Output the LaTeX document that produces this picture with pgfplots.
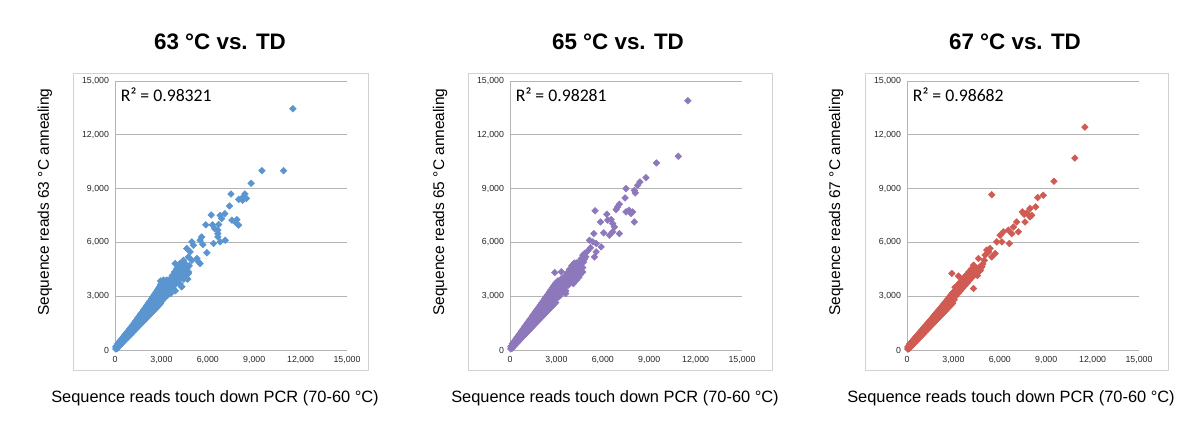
\documentclass[border=0pt]{standalone}
\usepackage{pgfplots}
\pgfplotsset{compat=1.18}
\usepackage{pgfplotstable}
\usepackage{fontspec}
\setmainfont{Liberation Sans}
\newfontfamily\carlito{Carlito}
\definecolor{cblue}{HTML}{5B95D0}
\definecolor{cpurple}{HTML}{8E78BC}
\definecolor{cred}{HTML}{CF5B52}
\definecolor{gridc}{HTML}{B4B4B4}
\definecolor{boxc}{HTML}{D2D2D2}

% ---------- 63 C vs TD ----------
\pgfplotstableread{
x y
50 60
50 180
150 90
150 200
150 320
250 200
250 300
250 430
350 280
350 400
350 530
450 380
450 500
450 640
550 460
550 600
550 750
650 560
650 700
650 860
750 640
750 800
750 960
850 730
850 900
850 1070
950 820
950 1010
950 1180
1050 900
1050 1110
1050 1290
1150 990
1150 1220
1150 1400
1250 1080
1250 1320
1250 1520
1350 1170
1350 1430
1350 1640
1450 1260
1450 1540
1450 1760
1550 1350
1550 1640
1550 1880
1650 1440
1650 1750
1650 2000
1750 1520
1750 1850
1750 2110
1850 1610
1850 1960
1850 2230
1950 1700
1950 2060
1950 2350
2050 1790
2050 2170
2050 2470
2150 1880
2150 2280
2150 2600
2250 1970
2250 2380
2250 2720
2350 2060
2350 2490
2350 2850
2450 2150
2450 2600
2450 2970
2550 2240
2550 2700
2550 3100
2650 2330
2650 2810
2650 3230
2750 2420
2750 2920
2750 3360
2850 2510
2850 3030
2850 3500
2950 2600
2950 3140
2950 3650
100 78
100 153
200 176
200 266
300 274
300 379
400 372
400 492
500 470
500 605
600 568
600 718
700 666
700 831
800 764
800 944
900 862
900 1057
1000 960
1000 1170
1100 1058
1100 1283
1200 1156
1200 1396
1300 1254
1300 1509
1400 1352
1400 1622
1500 1450
1500 1735
1600 1548
1600 1848
1700 1646
1700 1961
1800 1744
1800 2074
1900 1842
1900 2187
2000 1940
2000 2300
2100 2038
2100 2413
2200 2136
2200 2526
2300 2234
2300 2639
2400 2332
2400 2752
2500 2430
2500 2865
2600 2528
2600 2978
2700 2626
2700 3091
2800 2724
2800 3204
2900 2822
2900 3317
3000 2920
3000 3430
3050 2750
3050 3400
3100 3800
3150 3100
3200 2900
3250 3500
3300 3250
3350 3900
3400 3050
3450 3650
3500 3350
3550 3950
3600 3150
3650 3700
3700 4150
3750 3450
3800 3900
3850 4350
3900 3650
3950 4100
4000 4550
4050 3800
4100 4300
4150 4750
4200 4000
4250 4450
4300 3530
4350 4200
4400 4650
4450 3950
4500 4400
4550 4800
4600 4150
4650 4550
4700 3950
4750 4350
4200 3700
3900 3300
2950 3850
3130 3900
4800 4700
3100 3550
3200 3250
3300 3700
3400 3450
3500 3750
3600 3550
3700 3800
3800 4100
3900 4300
4000 3900
4100 4100
4200 4300
4300 4050
4400 4250
4500 4600
4600 4450
4700 4250
4400 4450
3950 3850
4150 4550
11500 13450
9500 10000
10900 10000
8800 9300
7500 8700
8300 8550
8400 8700
8500 8450
8250 8350
8000 8400
7400 8030
7100 7600
6800 7500
6900 7330
6220 7530
7560 7240
7880 7270
7780 7140
7990 6960
5870 6980
6300 6980
6440 6770
6700 7000
6650 6680
6650 6490
6650 6310
6370 5940
6800 6030
7130 6120
5500 6120
4970 6030
5070 5840
5600 6300
5940 5420
5680 5880
4640 5660
4860 5470
4750 5190
4970 5000
5300 5100
5400 4920
5500 4820
4430 5000
4200 4820
3890 4820
4750 4270
4640 3990
4320 3530
}\dataA

% ---------- 65 C vs TD ----------
\pgfplotstableread{
x y
50 60
50 190
150 110
150 230
150 350
250 210
250 330
250 460
350 300
350 440
350 580
450 390
450 550
450 700
550 480
550 650
550 820
650 580
650 760
650 940
750 670
750 860
750 1060
850 760
850 970
850 1180
950 850
950 1080
950 1300
1050 940
1050 1180
1050 1420
1150 1030
1150 1290
1150 1540
1250 1120
1250 1400
1250 1660
1350 1210
1350 1500
1350 1780
1450 1300
1450 1610
1450 1900
1550 1390
1550 1720
1550 2020
1650 1480
1650 1820
1650 2140
1750 1570
1750 1930
1750 2260
1850 1660
1850 2040
1850 2380
1950 1750
1950 2140
1950 2500
2050 1840
2050 2250
2050 2620
2150 1930
2150 2360
2150 2740
2250 2020
2250 2460
2250 2860
2350 2110
2350 2570
2350 2980
2450 2200
2450 2680
2450 3100
2550 2290
2550 2790
2550 3230
2650 2380
2650 2890
2650 3360
2750 2470
2750 3000
2750 3480
2850 2560
2850 3110
2850 3600
2950 2650
2950 3220
2950 3720
100 100
100 175
200 199
200 291
300 298
300 406
400 398
400 522
500 497
500 637
600 597
600 753
700 696
700 868
800 796
800 984
900 895
900 1100
1000 995
1000 1215
1100 1094
1100 1330
1200 1194
1200 1446
1300 1293
1300 1561
1400 1393
1400 1677
1500 1492
1500 1792
1600 1592
1600 1908
1700 1691
1700 2023
1800 1791
1800 2139
1900 1890
1900 2254
2000 1990
2000 2370
2100 2089
2100 2485
2200 2189
2200 2601
2300 2288
2300 2716
2400 2388
2400 2832
2500 2487
2500 2947
2600 2587
2600 3063
2700 2686
2700 3178
2800 2786
2800 3294
2900 2885
2900 3409
3000 2985
3000 3525
3050 2900
3050 3500
3100 3850
3150 3200
3200 3000
3250 3650
3300 3400
3350 4000
3400 3200
3450 3750
3500 3500
3550 4100
3600 3300
3650 3850
3700 4300
3750 3600
3800 4050
3850 4500
3900 3800
3950 4250
4000 4700
4050 3950
4100 4450
4150 4850
4200 4150
4250 4600
4300 3900
4350 4350
4400 4750
4450 4050
4500 4500
4550 4200
4600 4350
4700 4600
4750 4900
2890 4320
3320 4360
3600 3150
4100 3700
4800 5050
3100 3650
3200 3350
3300 3800
3400 3550
3500 3900
3600 3700
3700 4000
3800 4250
3900 4450
4000 4050
4100 4250
4200 4400
4300 4150
4400 4400
4500 4750
4600 4600
4700 4350
4400 4550
3950 4000
4150 4650
4300 4850
4500 4950
11500 13900
10880 10800
9470 10430
8790 9610
8400 9370
8250 9180
7500 9000
8040 8900
8100 8760
7440 8480
7070 8130
6960 7980
6860 7830
7500 7700
7700 7790
7930 7700
7820 7610
8040 7140
5500 7760
5850 7140
6260 7570
6320 7240
6540 7270
6640 7050
6750 6860
6060 6530
6430 6400
7070 6490
6640 6590
5420 6490
5140 6120
5360 6030
5570 5940
5890 5750
5460 5190
5570 5470
4820 5380
4710 5290
4610 5100
5200 5700
5000 5500
4900 5200
}\dataB

% ---------- 67 C vs TD ----------
\pgfplotstableread{
x y
50 50
50 170
150 90
150 200
150 320
250 180
250 290
250 410
350 270
350 390
350 510
450 360
450 480
450 610
550 450
550 580
550 710
650 540
650 670
650 810
750 630
750 770
750 910
850 720
850 860
850 1010
950 810
950 960
950 1110
1050 900
1050 1050
1050 1210
1150 990
1150 1150
1150 1310
1250 1080
1250 1240
1250 1410
1350 1170
1350 1340
1350 1510
1450 1260
1450 1430
1450 1610
1550 1350
1550 1530
1550 1710
1650 1440
1650 1620
1650 1810
1750 1530
1750 1720
1750 1920
1850 1620
1850 1810
1850 2020
1950 1710
1950 1910
1950 2120
2050 1800
2050 2000
2050 2220
2150 1890
2150 2100
2150 2330
2250 1980
2250 2190
2250 2430
2350 2070
2350 2290
2350 2540
2450 2160
2450 2380
2450 2640
2550 2250
2550 2480
2550 2750
2650 2340
2650 2570
2650 2860
2750 2430
2750 2670
2750 2970
2850 2520
2850 2760
2850 3080
2950 2610
2950 2860
2950 3190
100 71
100 146
200 165
200 247
300 258
300 348
400 352
400 449
500 445
500 550
600 539
600 651
700 632
700 752
800 726
800 853
900 819
900 954
1000 913
1000 1055
1100 1006
1100 1156
1200 1100
1200 1257
1300 1193
1300 1358
1400 1287
1400 1459
1500 1380
1500 1560
1600 1474
1600 1661
1700 1567
1700 1762
1800 1661
1800 1863
1900 1754
1900 1964
2000 1848
2000 2065
2100 1941
2100 2166
2200 2035
2200 2267
2300 2128
2300 2368
2400 2222
2400 2469
2500 2315
2500 2570
2600 2409
2600 2671
2700 2502
2700 2772
2800 2596
2800 2873
2900 2689
2900 2974
3000 2783
3000 3075
3050 2800
3050 3250
3100 3500
3150 3000
3200 3300
3250 3600
3300 3150
3350 3450
3400 3750
3450 3300
3500 3600
3550 3900
3600 3450
3650 3750
3700 4050
3750 3600
3800 3900
3850 4200
3900 3750
3950 4050
4000 4350
4050 3900
4100 4200
4150 4500
4200 4050
4250 4350
4300 4600
4350 4200
4400 4500
4450 4300
4500 4550
4600 4350
4650 4600
4700 4400
4800 4650
2900 4270
3330 4120
4300 3430
4550 4150
3100 3150
3200 3450
3300 3600
3400 3500
3500 3800
3600 3650
3700 3850
3800 4100
3900 4200
4000 4050
4100 4350
4200 4250
4300 4400
4400 4350
4500 4400
4600 4500
4700 4550
4750 4450
3950 3950
4150 4400
11500 12430
10850 10700
9500 9410
8810 8630
8450 8500
5480 8660
8320 7980
7950 7890
7740 7640
7570 7570
7460 7700
7630 7140
7950 7420
8060 7510
7090 7140
6880 6860
7200 6590
6770 6490
6560 6680
6230 6590
6020 6400
6620 5940
6130 6030
5800 6030
5160 5570
5270 5470
5370 5660
5700 5380
5480 5190
5050 5290
4620 5100
4840 4640
4300 4730
5000 5000
4900 4800
}\dataC

\pgfplotsset{
  panel/.style={
    scale only axis,
    width=174pt, height=201.75pt,
    anchor=south west,
    xmin=0, xmax=15000, ymin=0, ymax=15000,
    xtick={0,3000,...,15000}, ytick={0,3000,...,15000},
    scaled ticks=false,
    /pgf/number format/.cd, 1000 sep={,}, assume math mode=true, /pgfplots/.cd,
    ticklabel style={font=\fontsize{6.6}{7}\selectfont, text=black!85},
    ymajorgrids, grid style={gridc, line width=0.6pt},
    axis x line*=bottom, axis y line*=left,
    axis line style={gridc, line width=0.6pt},
    major tick length=0pt,
    xticklabel style={yshift=-1pt},
    yticklabel style={xshift=-1pt},
  },
  dots/.style={only marks, mark=square*, mark size=1.75pt,
    mark options={rotate=45, draw=#1, fill=#1}},
}

\begin{document}
\begin{tikzpicture}
\path[use as bounding box] (0,0) rectangle (900pt,326.25pt);

% panel boxes
\draw[boxc, line width=0.6pt] (54.75pt,48.75pt) rectangle (276pt,271.5pt);
\draw[boxc, line width=0.6pt] (351pt,48.75pt) rectangle (579pt,271.5pt);
\draw[boxc, line width=0.6pt] (648.75pt,48.75pt) rectangle (876pt,271.5pt);

\begin{axis}[panel, at={(86.25pt,63.75pt)}]
  \addplot[dots=cblue] table[x=x,y=y] {\dataA};
  \node[anchor=west, font=\carlito\fontsize{13.3}{14}\selectfont] at (rel axis cs:0.005,0.948) {R² = 0.98321};
\end{axis}

\begin{axis}[panel, at={(382.5pt,63.75pt)}]
  \addplot[dots=cpurple] table[x=x,y=y] {\dataB};
  \node[anchor=west, font=\carlito\fontsize{13.3}{14}\selectfont] at (rel axis cs:0.005,0.948) {R² = 0.98281};
\end{axis}

\begin{axis}[panel, at={(680.25pt,63.75pt)}]
  \addplot[dots=cred] table[x=x,y=y] {\dataC};
  \node[anchor=west, font=\carlito\fontsize{13.3}{14}\selectfont] at (rel axis cs:0.005,0.948) {R² = 0.98682};
\end{axis}

% titles
\node[font=\bfseries\fontsize{16.8}{18}\selectfont] at (165pt,294.75pt) {63 °C vs. TD};
\node[font=\bfseries\fontsize{16.8}{18}\selectfont] at (463.5pt,294.75pt) {65 °C vs. TD};
\node[font=\bfseries\fontsize{16.8}{18}\selectfont] at (761.25pt,294.75pt) {67 °C vs. TD};

% x labels
\node[font=\fontsize{12.3}{14}\selectfont] at (161.25pt,27.75pt) {Sequence reads touch down PCR (70-60 °C)};
\node[font=\fontsize{12.3}{14}\selectfont] at (461.25pt,27.75pt) {Sequence reads touch down PCR (70-60 °C)};
\node[font=\fontsize{12.3}{14}\selectfont] at (758.25pt,27.75pt) {Sequence reads touch down PCR (70-60 °C)};

% y labels
\node[rotate=90, font=\fontsize{11.6}{13}\selectfont] at (33.75pt,174.75pt) {Sequence reads 63 °C annealing};
\node[rotate=90, font=\fontsize{11.6}{13}\selectfont] at (330pt,174.75pt) {Sequence reads 65 °C annealing};
\node[rotate=90, font=\fontsize{11.6}{13}\selectfont] at (627pt,174.75pt) {Sequence reads 67 °C annealing};
\end{tikzpicture}
\end{document}
